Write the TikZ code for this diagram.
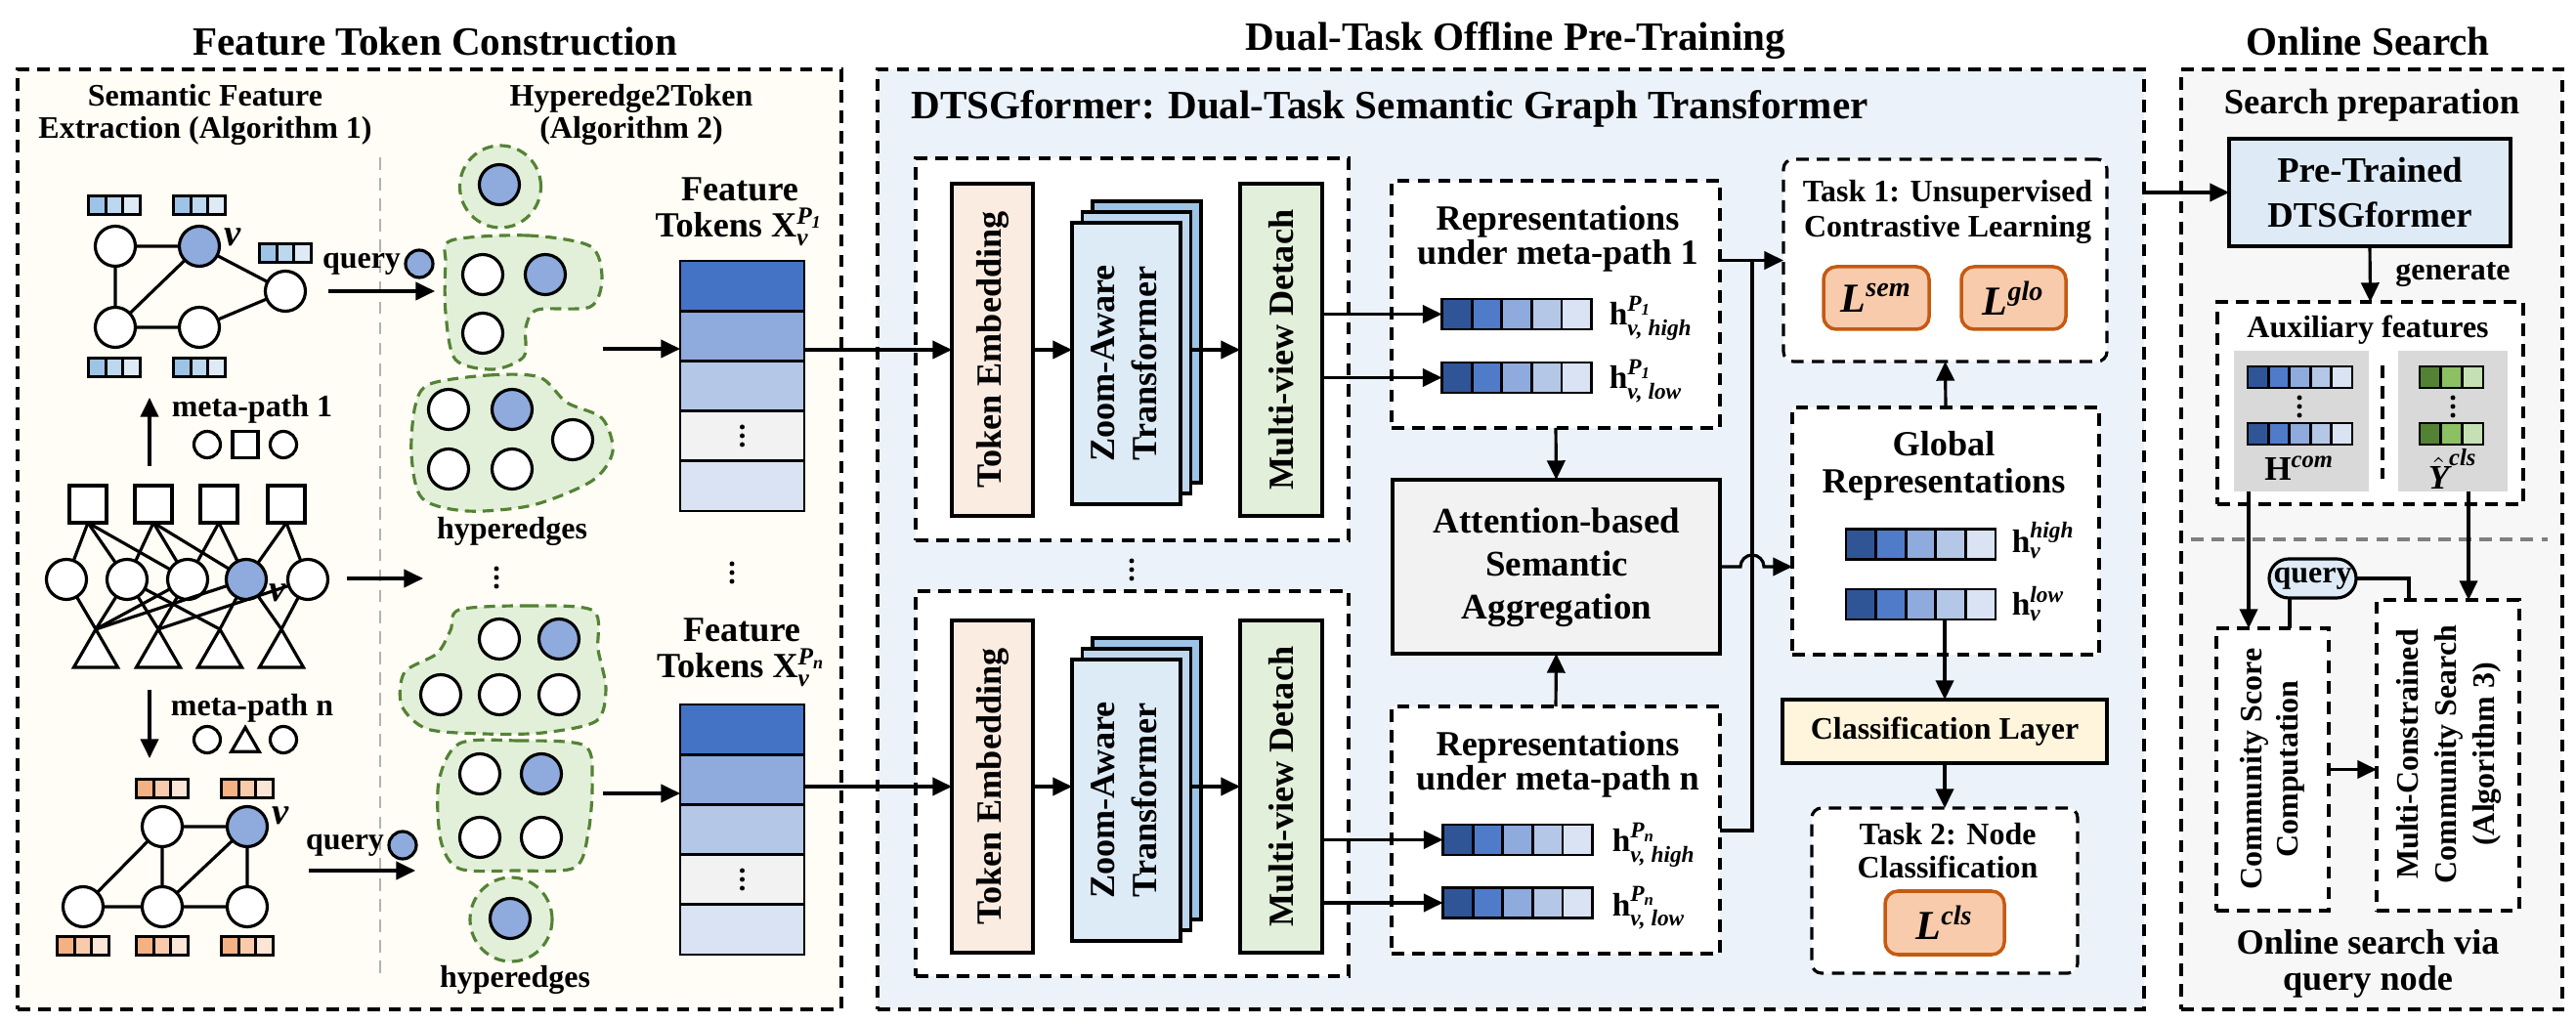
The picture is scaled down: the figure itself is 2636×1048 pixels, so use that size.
\documentclass[tikz,border=0pt]{standalone}
\usepackage{amsmath}
\usepackage{fontspec}
\setmainfont{Liberation Serif}
\usetikzlibrary{shapes.geometric,arrows.meta,calc}
\definecolor{creamL}{HTML}{FFFDF5}
\definecolor{blueM}{HTML}{EBF2FA}
\definecolor{grayR}{HTML}{F7F7F7}
\definecolor{tebfill}{HTML}{FBECE2}
\definecolor{zfront}{HTML}{DDEBF7}
\definecolor{zmid}{HTML}{BDD7EE}
\definecolor{zback}{HTML}{9DC3E6}
\definecolor{mvfill}{HTML}{E2EFDA}
\definecolor{attfill}{HTML}{F2F2F2}
\definecolor{clsfill}{HTML}{FFF5DC}
\definecolor{lossfill}{HTML}{F8CBAD}
\definecolor{lossdraw}{HTML}{C55A11}
\definecolor{prefill}{HTML}{DEEBF7}
\definecolor{subgray}{HTML}{D9D9D9}
\definecolor{qfill}{HTML}{DEEBF7}
\definecolor{vA}{HTML}{2F5597}
\definecolor{vB}{HTML}{4F7BC9}
\definecolor{vC}{HTML}{8FAADC}
\definecolor{vD}{HTML}{B4C7E7}
\definecolor{vE}{HTML}{DAE3F3}
\definecolor{tkA}{HTML}{4472C4}
\definecolor{tkB}{HTML}{8FAADC}
\definecolor{tkC}{HTML}{B4C7E7}
\definecolor{tkD}{HTML}{F2F2F2}
\definecolor{tkE}{HTML}{DAE3F3}
\definecolor{sbA}{HTML}{9DC3E6}
\definecolor{sbB}{HTML}{BDD7EE}
\definecolor{sbC}{HTML}{DEEBF7}
\definecolor{orA}{HTML}{F4B183}
\definecolor{orB}{HTML}{F8CBAD}
\definecolor{orC}{HTML}{FBE5D6}
\definecolor{grA}{HTML}{548235}
\definecolor{grB}{HTML}{8CC063}
\definecolor{grC}{HTML}{C5E0B4}
\definecolor{blobfill}{HTML}{E2F0D9}
\definecolor{blobdraw}{HTML}{548235}
\definecolor{nodeblue}{HTML}{8FAADC}

\newcommand{\vecnode}[7]{%
  \node[inner sep=0pt, outer sep=0pt, minimum width=#4*#6*0.1mm, minimum height=#5*0.1mm] (#1) at (#2,#3) {};
  \foreach \cc [count=\ii from 0] in {#7}{%
    \draw[cellline, fill=\cc] ($(#1.north west)+(\ii*#4,0)$) rectangle ++(#4,#5);}%
}
\newcommand{\vdotsat}[2]{\foreach \kk in {-9,0,9}{\fill (#1,#2+\kk) circle (0.25mm);}}

\tikzset{
 panel/.style={draw, line width=0.9pt, dash pattern=on 3.6pt off 2.4pt, inner sep=0pt},
 dbox/.style={draw, line width=0.9pt, dash pattern=on 3.6pt off 2.4pt, fill=white, inner sep=0pt},
 rdbox/.style={dbox, rounded corners=1mm},
 sbox/.style={draw, line width=0.9pt, inner sep=0pt},
 arr/.style={line width=0.9pt, -{Triangle[length=5.6pt,width=5.2pt]}},
 conn/.style={line width=0.9pt},
 cellline/.style={line width=0.8pt},
 gn/.style={circle, draw, line width=0.9pt, fill=white, minimum size=4.1mm, inner sep=0pt},
 gnb/.style={gn, fill=nodeblue},
 sq/.style={rectangle, draw, line width=0.9pt, fill=white, minimum size=3.8mm, inner sep=0pt},
 tri/.style={regular polygon, regular polygon sides=3, draw, line width=0.9pt, fill=white, minimum size=5.2mm, inner sep=0pt},
 blob/.style={draw=blobdraw, fill=blobfill, line width=0.9pt, dash pattern=on 3.2pt off 2pt},
 loss/.style={draw=lossdraw, fill=lossfill, line width=1pt, rounded corners=1.3mm, inner sep=0pt, font={\fontsize{12}{12}\selectfont\bfseries}},
 tT/.style={font={\fontsize{11.7}{13}\selectfont\bfseries}},
 tM/.style={font={\fontsize{10.3}{10}\selectfont\bfseries}, align=center},
 tS/.style={font={\fontsize{9.1}{9.4}\selectfont\bfseries}, align=center},
 rottext/.style={rotate=90, align=center, font={\fontsize{10.3}{12.2}\selectfont\bfseries}},
 hlab/.style={font={\fontsize{9.5}{9.5}\selectfont\bfseries}, anchor=base west},
 vlab/.style={font={\fontsize{11}{11}\selectfont\bfseries\itshape}},
}

\begin{document}
\begin{tikzpicture}[x=0.1mm, y=-0.1mm, every node/.style={inner sep=0.5pt, outer sep=0pt}]
\fill[white] (0,0) rectangle (2636,1048);
\useasboundingbox (0,0) rectangle (2636,1048);

% ---------------- panels
\node[panel, fill=creamL, minimum width=84.3mm, minimum height=96.2mm] (pL) at (439.5,552) {};
\node[panel, fill=blueM, minimum width=129.6mm, minimum height=96.2mm] (pM) at (1546,552) {};
\node[panel, fill=grayR, minimum width=39mm, minimum height=96.2mm] (pR) at (2427,552) {};
\node[tT] (ttlA) at (445,42) {Feature Token Construction};
\node[tT] (ttlB) at (1551,42) {Dual-Task Offline Pre-Training};
\node[tT] (ttlC) at (2423,42) {Online Search};

% ---------------- left panel
\node[tS] (sfe) at (210,117.5) {Semantic Feature\\Extraction (Algorithm 1)};
\node[tS] (h2t) at (646,117.5) {Hyperedge2Token\\(Algorithm 2)};
\draw[gray!60, line width=0.8pt, dash pattern=on 3.6pt off 2.4pt] (389,161) -- (389,1000);

% top meta-path graph
\node[gn] (a1) at (118,252) {};
\node[gnb] (a2) at (204,252) {};
\node[gn] (a3) at (292,298) {};
\node[gn] (a4) at (118,335) {};
\node[gn] (a5) at (204,335) {};
\draw[conn] (a1)--(a2) (a1)--(a4) (a2)--(a4) (a2)--(a3) (a3)--(a5) (a4)--(a5);
\node[vlab] (a2l) at (238,243) {v};
\vecnode{fa1}{117}{210}{17.6}{19}{3}{sbA,sbB,sbC}
\vecnode{fa2}{204}{210}{17.6}{19}{3}{sbA,sbB,sbC}
\vecnode{fa3}{292}{259}{17.6}{19}{3}{sbA,sbB,sbC}
\vecnode{fa4}{117}{376}{17.6}{19}{3}{sbA,sbB,sbC}
\vecnode{fa5}{204}{376}{17.6}{19}{3}{sbA,sbB,sbC}

\node[tS] (q1t) at (370,270) {query};
\node[circle, draw, line width=0.9pt, fill=nodeblue, minimum size=2.8mm, inner sep=0pt] (q1c) at (429,270) {};
\coordinate (q1s) at (336,298);
\coordinate (q1e) at (445,298);
\draw[arr] (q1s) -- (q1e);

% meta-path 1
\coordinate (m1s) at (153,477);
\coordinate (m1e) at (153,407);
\draw[arr] (m1s) -- (m1e);
\node[tS] (m1t) at (258,419) {meta-path 1};
\node[circle, draw, line width=0.9pt, fill=white, minimum size=2.7mm, inner sep=0pt] (m1a) at (212,455) {};
\node[rectangle, draw, line width=0.9pt, fill=white, minimum width=2.6mm, minimum height=2.7mm, inner sep=0pt] (m1b) at (251,455) {};
\node[circle, draw, line width=0.9pt, fill=white, minimum size=2.7mm, inner sep=0pt] (m1c) at (290,455) {};

% heterogeneous graph
\node[sq] (hs1) at (90,516) {};
\node[sq] (hs2) at (157,516) {};
\node[sq] (hs3) at (224,516) {};
\node[sq] (hs4) at (293,516) {};
\node[gn] (hc1) at (68,593) {};
\node[gn] (hc2) at (130,593) {};
\node[gn] (hc3) at (192,593) {};
\node[gnb] (hc4) at (252,593) {};
\node[gn] (hc5) at (315,593) {};
\node[tri] (ht1) at (98,670) {};
\node[tri] (ht2) at (162,670) {};
\node[tri] (ht3) at (225,670) {};
\node[tri] (ht4) at (288,670) {};
\foreach \s/\c in {hs1/hc1, hs1/hc2, hs1/hc3, hs2/hc2, hs2/hc3, hs2/hc4, hs3/hc3, hs3/hc4, hs4/hc4, hs4/hc5}
  \draw[conn] (\s.south) -- (\c);
\foreach \c/\t in {hc1/ht1, hc2/ht1, hc2/ht2, hc2/ht3, hc3/ht1, hc3/ht2, hc4/ht1, hc4/ht3, hc4/ht4, hc5/ht2, hc5/ht4}
  \draw[conn] (\c) -- (\t.corner 1);
\node[vlab] (hc4l) at (284,607) {v};
\coordinate (ha1) at (355,592);
\coordinate (ha2) at (433,592);
\draw[arr] (ha1) -- (ha2);

% meta-path n
\coordinate (mns) at (153,706);
\coordinate (mne) at (153,776);
\draw[arr] (mns) -- (mne);
\node[tS] (mnt) at (258,725) {meta-path n};
\node[circle, draw, line width=0.9pt, fill=white, minimum size=2.7mm, inner sep=0pt] (mna) at (212,757) {};
\node[tri, minimum size=3.3mm] (mnb) at (251,761) {};
\node[circle, draw, line width=0.9pt, fill=white, minimum size=2.7mm, inner sep=0pt] (mnc) at (290,757) {};

% bottom meta-path graph
\node[gn] (b1) at (166,846) {};
\node[gnb] (b2) at (253,846) {};
\node[gn] (b3) at (85,928) {};
\node[gn] (b4) at (166,928) {};
\node[gn] (b5) at (253,928) {};
\draw[conn] (b1)--(b2) (b1)--(b3) (b1)--(b4) (b2)--(b4) (b2)--(b5) (b3)--(b4) (b4)--(b5);
\node[vlab] (b2l) at (287,835) {v};
\vecnode{fb1}{166}{807}{17.6}{19}{3}{orA,orB,orC}
\vecnode{fb2}{253}{807}{17.6}{19}{3}{orA,orB,orC}
\vecnode{fb3}{85}{968}{17.6}{19}{3}{orA,orB,orC}
\vecnode{fb4}{166}{968}{17.6}{19}{3}{orA,orB,orC}
\vecnode{fb5}{253}{968}{17.6}{19}{3}{orA,orB,orC}
\node[tS] (q2t) at (353,865) {query};
\node[circle, draw, line width=0.9pt, fill=nodeblue, minimum size=2.8mm, inner sep=0pt] (q2c) at (412,865) {};
\coordinate (q2s) at (316,891);
\coordinate (q2e) at (425,891);
\draw[arr] (q2s) -- (q2e);

% hyperedges (top)
\node[blob, ellipse, minimum width=8.3mm, minimum height=8.4mm, inner sep=0pt] (he1) at (512,191) {};
\draw[blob] plot[smooth cycle] coordinates {(462,246) (540,241) (604,252) (616,285) (604,314) (550,317) (538,335) (536,365) (505,378) (466,368) (456,320) (456,270)};
\draw[blob] plot[smooth cycle] coordinates {(440,393) (500,384) (552,386) (580,412) (616,428) (627,462) (606,492) (545,517) (478,523) (432,510) (421,465) (425,415)};
\node[gnb] (e1a) at (511,189) {};
\node[gn] (e2a) at (494,281) {};
\node[gnb] (e2b) at (558,281) {};
\node[gn] (e2c) at (494,341) {};
\node[gn] (e3a) at (459,419) {};
\node[gnb] (e3b) at (524,419) {};
\node[gn] (e3c) at (586,450) {};
\node[gn] (e3d) at (459,480) {};
\node[gn] (e3e) at (524,480) {};
\node[tS] (hyA) at (524,544) {hyperedges};
\vdotsat{508}{591}

% hyperedges (bottom)
\draw[blob] plot[smooth cycle] coordinates {(470,624) (540,620) (607,625) (612,665) (620,705) (610,738) (555,750) (495,751) (437,746) (411,722) (414,688) (447,669) (461,645)};
\draw[blob] plot[smooth cycle] coordinates {(470,761) (530,758) (598,763) (606,800) (602,852) (588,888) (528,891) (470,889) (451,860) (449,800)};
\node[blob, ellipse, minimum width=8.4mm, minimum height=8.6mm, inner sep=0pt] (heC) at (523,941) {};
\node[gn] (f1a) at (511,654) {};
\node[gnb] (f1b) at (572,654) {};
\node[gn] (f1c) at (451,711) {};
\node[gn] (f1d) at (511,711) {};
\node[gn] (f1e) at (572,711) {};
\node[gn] (f2a) at (491,792) {};
\node[gnb] (f2b) at (554,792) {};
\node[gn] (f2c) at (491,857) {};
\node[gn] (f2d) at (554,857) {};
\node[gnb] (f3a) at (522,940) {};
\node[tS] (hyB) at (527,1003) {hyperedges};

% feature tokens
\node[tM, font={\fontsize{10.3}{10.5}\selectfont\bfseries}, anchor=north] (ftA) at (757,180) {Feature\\Tokens X$^{\text{\itshape P}_{\text{\itshape 1}}}_{\text{\itshape v}}$};
\node[inner sep=0pt, minimum width=12.7mm, minimum height=25.6mm] (tok1) at (759.5,395) {};
\foreach \cc [count=\ii from 0] in {tkA,tkB,tkC,tkD,tkE}
  \draw[cellline, fill=\cc] ($(tok1.north west)+(0,\ii*51.2)$) rectangle ++(127,51.2);
\vdotsat{759.5}{446}
\vdotsat{749}{586}
\node[tM, font={\fontsize{10.3}{10.5}\selectfont\bfseries}, anchor=north] (ftB) at (759,631) {Feature\\Tokens X$^{\text{\itshape P}_{\text{\itshape n}}}_{\text{\itshape v}}$};
\node[inner sep=0pt, minimum width=12.7mm, minimum height=25.6mm] (tok2) at (759.5,849) {};
\foreach \cc [count=\ii from 0] in {tkA,tkB,tkC,tkD,tkE}
  \draw[cellline, fill=\cc] ($(tok2.north west)+(0,\ii*51.2)$) rectangle ++(127,51.2);
\vdotsat{759.5}{900}
\coordinate (bt1) at (617,357);
\draw[arr] (bt1) -- (bt1 -| tok1.west);
\coordinate (bt2) at (617,812);
\draw[arr] (bt2) -- (bt2 -| tok2.west);

% ---------------- middle panel
\node[tT, anchor=west] (dtsg) at (931,111) {DTSGformer: Dual-Task Semantic Graph Transformer};

% upper branch
\node[dbox, minimum width=44.3mm, minimum height=39.1mm] (ib1) at (1158.5,357.5) {};
\node[sbox, fill=tebfill, minimum width=8.3mm, minimum height=34mm] (te1) at (1015.5,358) {};
\node[rottext] (te1t) at (1016,358) {Token Embedding};
\node[sbox, fill=zback, minimum width=11.1mm, minimum height=28.8mm] (zb1) at (1173.5,350) {};
\node[sbox, fill=zmid, minimum width=11.1mm, minimum height=28.8mm] (zm1) at (1163,361) {};
\node[sbox, fill=zfront, minimum width=11.1mm, minimum height=28.8mm] (zf1) at (1152.5,372) {};
\node[rottext] (zt1) at (1150,372) {Zoom-Aware\\Transformer};
\node[sbox, fill=mvfill, minimum width=8.4mm, minimum height=34mm] (mv1) at (1311,358) {};
\node[rottext] (mv1t) at (1311,358) {Multi-view Detach};
\draw[arr] (tok1.east |- te1.west) -- (te1.west);
\draw[arr] (te1.east) -- (te1.east -| zf1.west);
\draw[arr] (te1.east -| zm1.east) -- (te1.east -| mv1.west);

\vdotsat{1158}{583}

% lower branch
\node[dbox, minimum width=44.3mm, minimum height=39.4mm] (ib2) at (1158.5,802) {};
\node[sbox, fill=tebfill, minimum width=8.3mm, minimum height=34mm] (te2) at (1015.5,805) {};
\node[rottext] (te2t) at (1016,805) {Token Embedding};
\node[sbox, fill=zback, minimum width=11.1mm, minimum height=28.8mm] (zb2) at (1173.5,797) {};
\node[sbox, fill=zmid, minimum width=11.1mm, minimum height=28.8mm] (zm2) at (1163,808) {};
\node[sbox, fill=zfront, minimum width=11.1mm, minimum height=28.8mm] (zf2) at (1152.5,819) {};
\node[rottext] (zt2) at (1150,819) {Zoom-Aware\\Transformer};
\node[sbox, fill=mvfill, minimum width=8.4mm, minimum height=34mm] (mv2) at (1311,805) {};
\node[rottext] (mv2t) at (1311,805) {Multi-view Detach};
\draw[arr] (tok2.east |- te2.west) -- (te2.west);
\draw[arr] (te2.east) -- (te2.east -| zf2.west);
\draw[arr] (te2.east -| zm2.east) -- (te2.east -| mv2.west);

% representation boxes
\node[dbox, minimum width=33.6mm, minimum height=25.3mm] (rep1) at (1592,311.5) {};
\node[tM] (rep1t) at (1594,244.5) {Representations\\under meta-path 1};
\vecnode{vh1}{1552}{321.5}{30.6}{31}{5}{vA,vB,vC,vD,vE}
\vecnode{vl1}{1552}{386.5}{30.6}{31}{5}{vA,vB,vC,vD,vE}
\node[hlab] (lh1) at (1645,333) {h$^{\text{\itshape P}_{\text{\itshape 1}}}_{\text{\itshape v, high}}$};
\node[hlab] (ll1) at (1645,398) {h$^{\text{\itshape P}_{\text{\itshape 1}}}_{\text{\itshape v, low}}$};
\draw[arr] (mv1.east |- vh1.west) -- (vh1.west);
\draw[arr] (mv1.east |- vl1.west) -- (vl1.west);

\node[sbox, fill=attfill, minimum width=33.5mm, minimum height=17.8mm] (att) at (1592.5,580) {};
\node[tM, font={\fontsize{10.5}{12.5}\selectfont\bfseries}] (attt) at (1593,581) {Attention-based\\Semantic\\Aggregation};

\node[dbox, minimum width=33.6mm, minimum height=25.3mm] (repn) at (1592,849.5) {};
\node[tM] (repnt) at (1594,782) {Representations\\under meta-path n};
\vecnode{vhn}{1553}{859.5}{30.6}{31}{5}{vA,vB,vC,vD,vE}
\vecnode{vln}{1553}{924}{30.6}{31}{5}{vA,vB,vC,vD,vE}
\node[hlab] (lhn) at (1648,872) {h$^{\text{\itshape P}_{\text{\itshape n}}}_{\text{\itshape v, high}}$};
\node[hlab] (lln) at (1648,937) {h$^{\text{\itshape P}_{\text{\itshape n}}}_{\text{\itshape v, low}}$};
\draw[arr] (mv2.east |- vhn.west) -- (vhn.west);
\draw[arr] (mv2.east |- vln.west) -- (vln.west);

\draw[arr] (rep1.south) -- (att.north);
\draw[arr] (repn.north) -- (att.south);

% task 1
\node[rdbox, minimum width=33.1mm, minimum height=20.7mm] (t1) at (1990.5,266.5) {};
\node[tS, font={\fontsize{9.1}{10.2}\selectfont\bfseries}] (t1t) at (1993,217) {Task 1: Unsupervised\\Contrastive Learning};
\node[loss, minimum width=10.8mm, minimum height=6.4mm] (lsem) at (1920,305) {\textit{L}$^{\text{\itshape sem}}$};
\node[loss, minimum width=10.7mm, minimum height=6.4mm] (lglo) at (2060.5,305) {\textit{L}$^{\text{\itshape glo}}$};

% global
\node[dbox, minimum width=31.4mm, minimum height=25.3mm] (glob) at (1991,543.5) {};
\node[tM, font={\fontsize{10.3}{10.8}\selectfont\bfseries}] (globt) at (1989,477) {Global\\Representations};
\vecnode{gh}{1965.5}{557}{30.6}{31}{5}{vA,vB,vC,vD,vE}
\vecnode{gl}{1965.5}{618.5}{30.6}{31}{5}{vA,vB,vC,vD,vE}
\node[hlab] (ghl) at (2057,566) {h$^{\text{\itshape high}}_{\text{\itshape v}}$};
\node[hlab] (gll) at (2057,630) {h$^{\text{\itshape low}}_{\text{\itshape v}}$};

% connectors to task 1 / global
\coordinate (jA) at (1793,266.5);
\coordinate (jB) at (1793,850);
\draw[arr] (rep1.east |- t1.west) -- (t1.west);
\draw[conn] (repn.east |- jB) -- (jB) -- (jA);
\draw[arr] (att.east) -- ($(att.east -| jA)+(-1.2mm,0)$) arc[start angle=180, end angle=0, radius=1.2mm] -- (att.east -| glob.west);
\draw[arr] (glob.north) -- (t1.south);

% classification
\node[sbox, fill=clsfill, minimum width=33.2mm, minimum height=6.5mm, font={\fontsize{9.1}{10}\selectfont\bfseries}] (cls) at (1990,748.5) {Classification Layer};
\node[rdbox, minimum width=27.2mm, minimum height=16.9mm] (t2) at (1990,911.5) {};
\node[tS, font={\fontsize{9.1}{9.7}\selectfont\bfseries}] (t2t) at (1993,871) {Task 2: Node\\Classification};
\node[loss, minimum width=12.2mm, minimum height=6.5mm] (lcls) at (1990,944.5) {\textit{L}$^{\text{\itshape cls}}$};
\draw[arr] (gl.south -| cls.north) -- (cls.north);
\draw[arr] (cls.south) -- (t2.north);

% ---------------- right panel
\node[tM, font={\fontsize{10.4}{11}\selectfont\bfseries}] (sprep) at (2427,108) {Search preparation};
\node[sbox, fill=prefill, minimum width=28.8mm, minimum height=11mm, align=center, font={\fontsize{10.4}{13}\selectfont\bfseries}] (pre) at (2425,197) {Pre-Trained\\DTSGformer};
\draw[arr] (pM.east |- pre.west) -- (pre.west);
\node[dbox, minimum width=31.3mm, minimum height=20.7mm] (aux) at (2425.5,412.5) {};
\draw[arr] (pre.south) -- (aux.north);
\node[tS] (gen) at (2510,281) {generate};
\node[tS] (auxt) at (2423,338) {Auxiliary features};
\node[fill=subgray, minimum width=13.8mm, minimum height=14.4mm, inner sep=0pt] (gL) at (2355,431) {};
\node[fill=subgray, minimum width=11.2mm, minimum height=14.4mm, inner sep=0pt] (gR) at (2510,431) {};
\draw[line width=0.9pt, dash pattern=on 3.6pt off 2.4pt] (2438,374) -- (2438,490);
\vecnode{hcA}{2353.5}{386}{21.4}{22}{5}{vA,vB,vC,vD,vE}
\vecnode{hcB}{2353.5}{444}{21.4}{22}{5}{vA,vB,vC,vD,vE}
\vecnode{ycA}{2508.5}{386}{21.7}{22}{3}{grA,grB,grC}
\vecnode{ycB}{2508.5}{444}{21.7}{22}{3}{grA,grB,grC}
\vdotsat{2353}{416}
\vdotsat{2510}{416}
\node[font={\fontsize{10}{10}\selectfont\bfseries}] (Hc) at (2353,479) {H$^{\text{\itshape com}}$};
\node[font={\fontsize{10}{10}\selectfont\bfseries}] (Yc) at (2510,480) {$\hat{\text{\itshape Y}}^{\text{\itshape cls}}$};

\draw[gray, line width=1pt, dash pattern=on 3.6pt off 2.4pt] (2242,552) -- (2607,552);

\node[draw, line width=0.9pt, fill=qfill, rounded corners=2mm, minimum width=8.9mm, minimum height=4mm, inner sep=0pt, font={\fontsize{9.1}{10}\selectfont\bfseries}] (qp) at (2366.5,592) {query};
\node[dbox, minimum width=11.5mm, minimum height=28.9mm] (cs) at (2325.5,787.5) {};
\node[rottext, font={\fontsize{9.1}{10.5}\selectfont\bfseries}] (cst) at (2325,787) {Community Score\\Computation};
\node[dbox, minimum width=14.6mm, minimum height=31.8mm] (mc) at (2505,773) {};
\node[rottext, font={\fontsize{9.1}{11}\selectfont\bfseries}] (mct) at (2506,772) {Multi-Constrained\\Community Search\\(Algorithm 3)};
\draw[arr] ([xshift=-5.4mm]gL.south) -- ([xshift=-5.4mm]gL.south |- cs.north);
\draw[arr] ([xshift=1.6mm]gR.south) -- ([xshift=1.6mm]gR.south |- mc.north);
\draw[conn] ([xshift=-2.35mm]qp.south) -- ([xshift=-2.35mm]qp.south |- cs.north);
\draw[conn] (qp.east) -| ([xshift=-4mm]mc.north);
\draw[arr] (cs.east) -- (cs.east -| mc.west);
\node[tM, font={\fontsize{10.3}{10.6}\selectfont\bfseries}] (ons) at (2423,986.5) {Online search via\\query node};
\end{tikzpicture}
\end{document}
